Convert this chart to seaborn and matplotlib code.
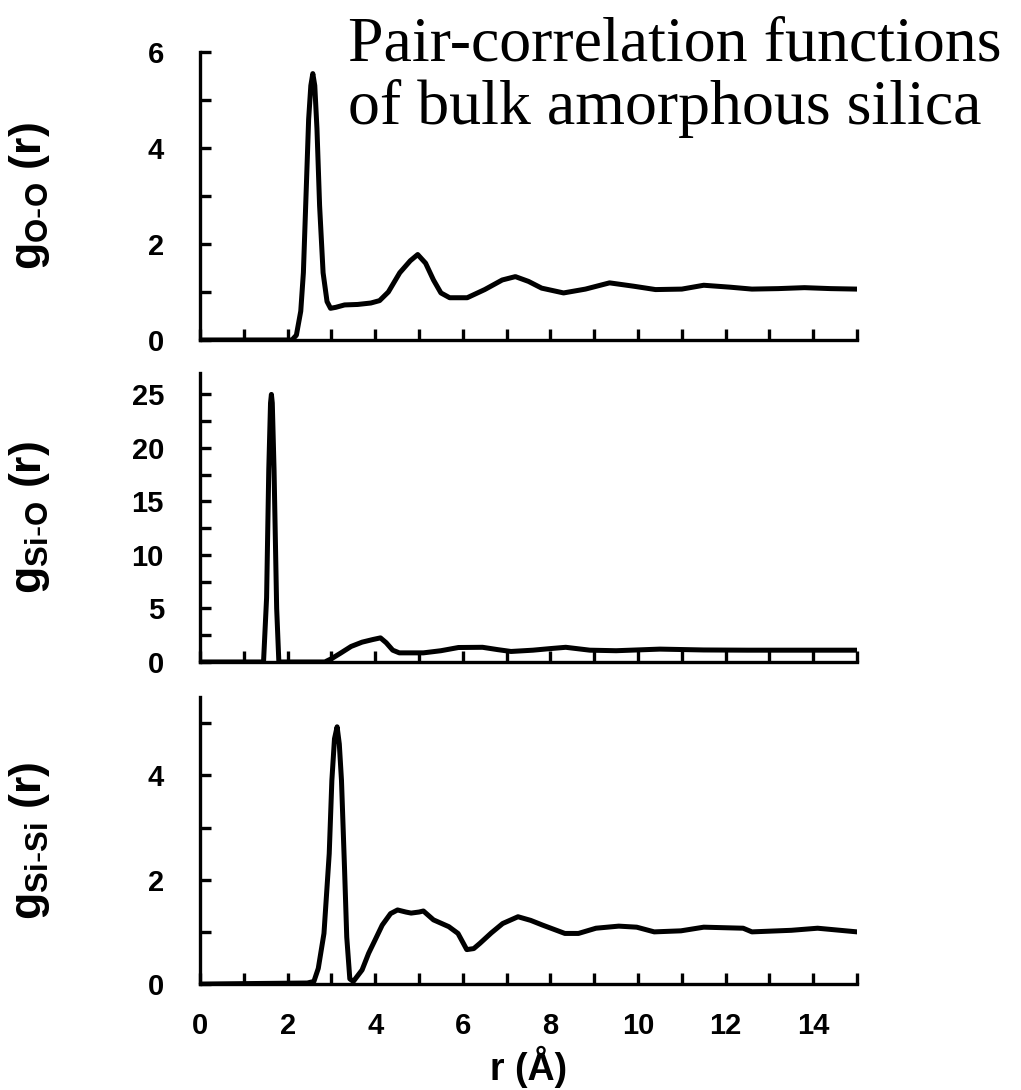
import matplotlib
matplotlib.use("Agg")
import matplotlib.pyplot as plt
from matplotlib.ticker import MultipleLocator
import seaborn as sns

# pair-correlation data
r_oo = [0, 2.1, 2.2, 2.3, 2.36, 2.42, 2.48, 2.53, 2.575, 2.62, 2.67, 2.73, 2.81, 2.9, 2.98,
        3.1, 3.3, 3.6, 3.9, 4.1, 4.3, 4.56, 4.8, 4.97, 5.15, 5.33, 5.5, 5.7, 6.1, 6.5, 6.9,
        7.2, 7.5, 7.8, 8.3, 8.8, 9.35, 9.9, 10.4, 11.0, 11.5, 12.1, 12.6, 13.2, 13.8, 14.4, 15]
g_oo = [0, 0, 0.1, 0.6, 1.4, 3.0, 4.6, 5.3, 5.55, 5.3, 4.4, 2.8, 1.4, 0.8, 0.66,
        0.68, 0.73, 0.74, 0.77, 0.82, 1.0, 1.40, 1.65, 1.78, 1.6, 1.25, 0.98, 0.88, 0.88, 1.05, 1.25,
        1.32, 1.22, 1.08, 0.98, 1.06, 1.19, 1.12, 1.05, 1.06, 1.14, 1.1, 1.06, 1.07, 1.09, 1.07, 1.06]

r_sio = [0, 1.45, 1.52, 1.57, 1.61, 1.63, 1.65, 1.69, 1.75, 1.80, 2.85, 3.0, 3.2, 3.45, 3.7,
         3.95, 4.12, 4.25, 4.4, 4.55, 5.1, 5.5, 5.9, 6.45, 6.8, 7.1, 7.6, 8.0, 8.35, 8.9,
         9.5, 10.5, 11.5, 12.5, 13.5, 15]
g_sio = [0, 0, 6, 18, 24.2, 25, 24.2, 18, 5, 0, 0, 0.3, 0.8, 1.45, 1.85,
         2.1, 2.25, 1.8, 1.1, 0.85, 0.85, 1.05, 1.35, 1.37, 1.15, 0.98, 1.1, 1.25, 1.37, 1.1,
         1.05, 1.2, 1.12, 1.1, 1.1, 1.1]

r_sisi = [0, 2.45, 2.6, 2.7, 2.83, 2.95, 3.01, 3.07, 3.13, 3.18, 3.23, 3.3, 3.35, 3.42, 3.5,
          3.7, 3.85, 4.0, 4.16, 4.35, 4.51, 4.7, 4.82, 5.0, 5.1, 5.33, 5.68, 5.89, 6.09,
          6.25, 6.39, 6.65, 6.91, 7.26, 7.55, 7.82, 8.33, 8.64, 9.04, 9.56, 9.97, 10.37,
          10.98, 11.5, 12.4, 12.6, 13.5, 14.1, 15]
g_sisi = [0, 0.02, 0.05, 0.3, 0.97, 2.5, 3.9, 4.7, 4.93, 4.6, 3.9, 2.2, 0.9, 0.1, 0.05,
          0.27, 0.59, 0.85, 1.13, 1.35, 1.42, 1.38, 1.36, 1.38, 1.40, 1.23, 1.10, 0.97, 0.66,
          0.68, 0.78, 0.98, 1.16, 1.29, 1.22, 1.13, 0.97, 0.97, 1.07, 1.11, 1.09, 1.0,
          1.02, 1.09, 1.07, 1.0, 1.03, 1.07, 1.0]

sns.set_style("ticks")
plt.rcParams['font.family'] = ['Liberation Sans', 'DejaVu Sans']
plt.rcParams['text.color'] = 'black'
plt.rcParams['axes.labelcolor'] = 'black'
plt.rcParams['xtick.color'] = 'black'
plt.rcParams['ytick.color'] = 'black'
plt.rcParams['axes.edgecolor'] = 'black'
plt.rcParams['mathtext.default'] = 'regular'

fig = plt.figure(figsize=(10.21, 10.9), dpi=100)
left, width = 0.1959, 0.6435
panels = [
    (r_oo, g_oo, [left, 0.6881, width, 0.2642], 6, 2, 1, r'g$_{O\text{-}O}$ (r)'),
    (r_sio, g_sio, [left, 0.3927, width, 0.2651], 27, 5, 2.5, r'g$_{Si\text{-}O}$ (r)'),
    (r_sisi, g_sisi, [left, 0.0972, width, 0.2633], 5.5, 2, 1, r'g$_{Si\text{-}Si}$ (r)'),
]

axes = []
for r, g, pos, ymax, major, minor, label in panels:
    ax = fig.add_axes(pos)
    sns.lineplot(x=r, y=g, ax=ax, color='black', linewidth=3.6)
    ax.set_xlim(0, 15)
    ax.set_ylim(0, ymax)
    ax.xaxis.set_major_locator(MultipleLocator(2))
    ax.xaxis.set_minor_locator(MultipleLocator(1))
    ax.yaxis.set_major_locator(MultipleLocator(major))
    ax.yaxis.set_minor_locator(MultipleLocator(minor))
    sns.despine(ax=ax)
    for s in ['left', 'bottom']:
        ax.spines[s].set_linewidth(2.4)
    ax.tick_params(which='both', direction='in', width=2.4, length=8)
    ax.tick_params(axis='y', pad=26, labelsize=21)
    ax.tick_params(axis='x', pad=20, labelsize=21)
    for t in ax.get_xticklabels() + ax.get_yticklabels():
        t.set_fontweight('bold')
    ax.set_ylabel(label, fontsize=32, fontweight='bold')
    ax.yaxis.set_label_coords(-0.225, 0.5)
    axes.append(ax)

axes[0].tick_params(axis='x', labelbottom=False)
axes[1].tick_params(axis='x', labelbottom=False)
axes[2].set_xlabel('r (Å)', fontsize=27, fontweight='bold', labelpad=4)

fig.text(0.341, 0.985, 'Pair-correlation functions\nof bulk amorphous silica',
         family=['Liberation Serif'], fontsize=46, va='top', ha='left', linespacing=1.1)

fig.savefig('out.png', dpi=100)
